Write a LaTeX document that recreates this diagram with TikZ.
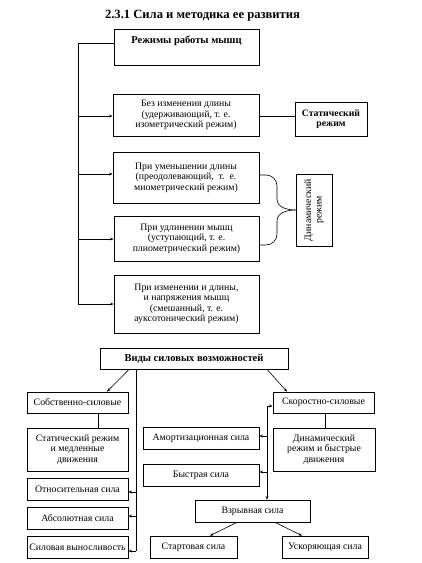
\documentclass[tikz,border=0pt]{standalone}
\usepackage{fontspec}
\setmainfont{Liberation Serif}
\usetikzlibrary{arrows.meta}
\begin{document}
\begin{tikzpicture}[x=1pt,y=-1pt,
  box/.style={draw,line width=0.75pt,inner sep=0pt,align=center,font=\fontsize{9.8}{10.5}\selectfont},
  ln/.style={line width=0.6pt},
  arr/.style={line width=0.6pt,-{Stealth[length=3.5pt,width=2.8pt]}}]
\useasboundingbox (0,0) rectangle (421,563);
\node[font=\bfseries\fontsize{12.6}{14}\selectfont] (title) at (202.5,16) {2.3.1 Сила и методика ее развития};
% upper part
\node[box,minimum width=145pt,minimum height=36pt] (rm) at (186.5,47) {};
\node[font=\bfseries\fontsize{10.5}{12}\selectfont] (rmt) at (186.5,41) {Режимы работы мышц};
\node[box,minimum width=146pt,minimum height=42pt] (b1) at (186,115) {Без изменения длины\\(удерживающий, т. е.\\изометрический режим)};
\node[box,minimum width=72pt,minimum height=34pt,font=\bfseries\fontsize{9.8}{10.5}\selectfont] (st) at (331,119) {Статический\\режим};
\node[box,minimum width=146pt,minimum height=51pt] (b2) at (186,177.5) {При уменьшении длины\\(преодолевающий,\enspace т.\enspace е.\\миометрический режим)};
\node[box,minimum width=145pt,minimum height=45pt] (b3) at (186.5,238.5) {При удлинении мышц\\(уступающий, т. е.\\плиометрический режим)};
\node[box,minimum width=145pt,minimum height=58pt] (b4) at (186.5,304) {При изменении и длины,\\и напряжения мышц\\(смешанный, т. е.\\ауксотонический режим)};
\node[box,minimum width=36pt,minimum height=72pt] (dyn) at (314,210) {};
\node[rotate=90,align=center,font=\fontsize{9.8}{10.5}\selectfont] (dynt) at (314,210) {Динамический\\режим};
\coordinate (lt) at (78,43);
\coordinate (lb) at (78,304);
\draw[ln] (rm.west |- lt) -- (lt) -- (lb);
\draw[arr] (78,116) -- (b1.west |- 78,116);
\draw[arr] (78,174) -- (b2.west |- 78,174);
\draw[arr] (78,239) -- (b3.west |- 78,239);
\draw[arr] (lb) -- (b4.west |- lb);
\draw[ln] (b1.east |- 0,116) -- (st.west |- 0,116);
\coordinate (tip) at (dyn.west);
\draw[ln] (b2.east |- 0,175) -- (266,175) to[out=0,in=90] (277,186) -- (277,199) to[out=-90,in=180] (tip);
\draw[ln] (b3.east |- 0,245) -- (266,245) to[out=0,in=-90] (277,234) -- (277,221) to[out=90,in=180] (tip);
% lower part
\node[box,minimum width=188pt,minimum height=21pt,font=\bfseries\fontsize{10.5}{12}\selectfont] (vid) at (194,358.5) {Виды силовых возможностей};
\node[box,minimum width=101pt,minimum height=21pt] (ss) at (77.5,402.5) {Собственно-силовые};
\node[box,minimum width=101pt,minimum height=21pt] (sk) at (323.5,402.5) {Скоростно-силовые};
\node[box,minimum width=101pt,minimum height=43pt] (stat) at (77.5,449.5) {Статический режим\\и медленные\\движения};
\node[box,minimum width=102pt,minimum height=43pt] (din) at (324,449.5) {Динамический\\режим и быстрые\\движения};
\node[box,minimum width=116pt,minimum height=22pt] (am) at (201,438) {Амортизационная сила};
\node[box,minimum width=116pt,minimum height=22pt] (bs) at (201,475) {Быстрая сила};
\node[box,minimum width=115pt,minimum height=22pt] (vz) at (252.5,511) {Взрывная сила};
\node[box,minimum width=87pt,minimum height=22pt] (start) at (193.5,547) {Стартовая сила};
\node[box,minimum width=86pt,minimum height=22pt] (usk) at (325,547) {Ускоряющая сила};
\node[box,minimum width=101pt,minimum height=22pt] (ot) at (77.5,489) {Относительная сила};
\node[box,minimum width=101pt,minimum height=22pt] (ab) at (77.5,518) {Абсолютная сила};
\node[box,minimum width=101pt,minimum height=22pt] (sv) at (77.5,547) {Силовая выносливость};
\draw[arr] (vid.south -| 129,0) -- (ss.north -| 107,0);
\draw[arr] (vid.south -| 267,0) -- (sk.north -| 287,0);
\draw[ln] (ss.south -| 98,0) -- (stat.north -| 98,0);
\draw[ln] (sk.south -| 325,0) -- (din.north -| 325,0);
\coordinate (lv) at (136,551);
\draw[ln] (vid.south -| lv) -- (lv);
\draw[arr] (136,492) -- (ot.east |- 0,492);
\draw[arr] (136,516) -- (ab.east |- 0,516);
\draw[arr] (lv) -- (sv.east |- lv);
\coordinate (rv) at (267,406);
\draw[arr] (rv) -- (sk.west |- rv);
\draw[arr] (rv) -- (vz.north -| rv);
\draw[arr] (267,436) -- (am.east |- 0,436);
\draw[arr] (267,472) -- (bs.east |- 0,472);
\draw[arr] (vz.south -| 237,0) -- (start.north -| 210,0);
\draw[arr] (vz.south -| 275,0) -- (usk.north -| 302,0);
\end{tikzpicture}
\end{document}
